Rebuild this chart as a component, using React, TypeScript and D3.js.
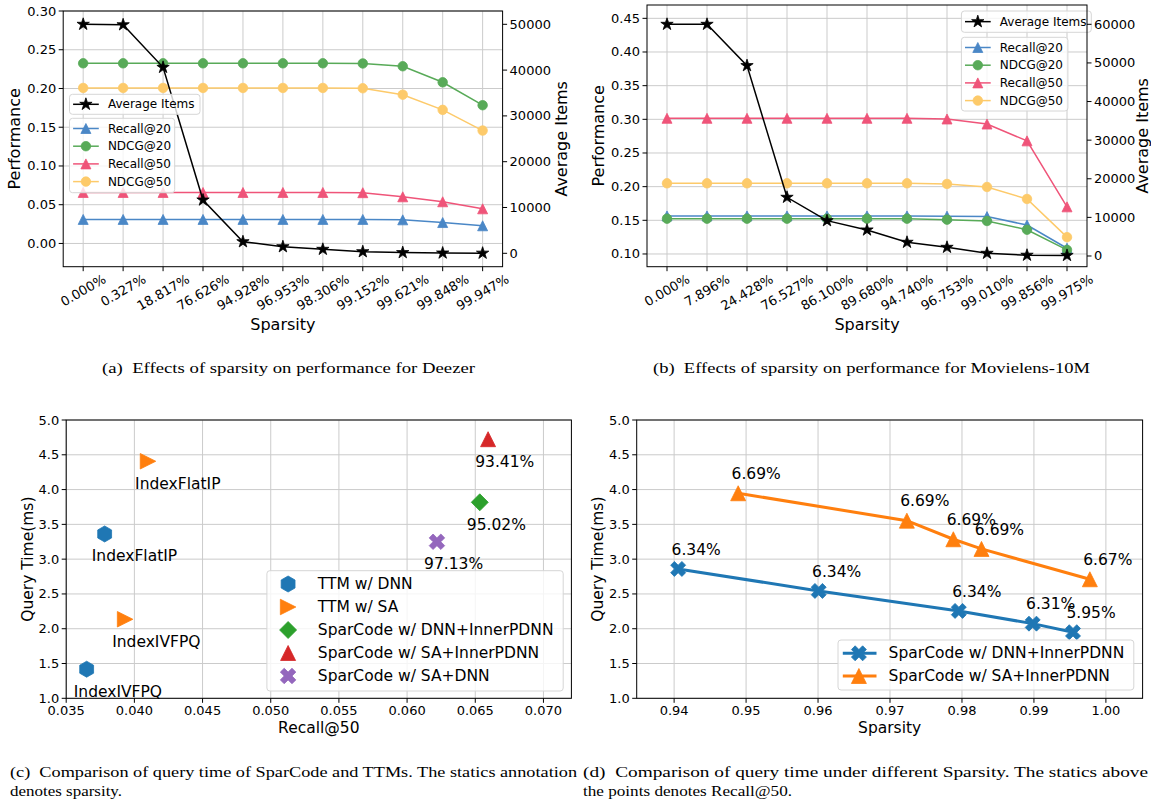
import React from 'react';
import * as d3 from 'd3';

const SANS = "'DejaVu Sans', Verdana, sans-serif";
const SERIF = "'Liberation Serif', 'Times New Roman', serif";
const GRID = '#cbcbcb';

// (a) Deezer
const deezerSparsity = ['0.000%', '0.327%', '18.817%', '76.626%', '94.928%', '96.953%', '98.306%', '99.152%', '99.621%', '99.848%', '99.947%'];
const deezerRecall20 = [0.031, 0.031, 0.031, 0.031, 0.031, 0.031, 0.031, 0.031, 0.0305, 0.027, 0.0228];
const deezerNdcg20 = [0.2325, 0.2325, 0.2325, 0.2325, 0.2325, 0.2325, 0.2325, 0.2323, 0.2287, 0.208, 0.1784];
const deezerRecall50 = [0.0658, 0.0658, 0.0658, 0.0658, 0.0658, 0.0658, 0.0658, 0.0655, 0.0602, 0.0538, 0.0447];
const deezerNdcg50 = [0.2007, 0.2007, 0.2007, 0.2007, 0.2007, 0.2007, 0.2007, 0.2003, 0.192, 0.1724, 0.1457];
const deezerAvgItems = [50000, 49900, 40600, 11640, 2530, 1440, 870, 350, 150, 60, 30];
const deezerPerfTicks = [0, 0.05, 0.1, 0.15, 0.2, 0.25, 0.3];
const deezerAvgTicks = [0, 10000, 20000, 30000, 40000, 50000];

// (b) Movielens-10M
const mlSparsity = ['0.000%', '7.896%', '24.428%', '76.527%', '86.100%', '89.680%', '94.740%', '96.753%', '99.010%', '99.856%', '99.975%'];
const mlRecall20 = [0.1565, 0.1565, 0.1565, 0.1565, 0.1565, 0.1565, 0.1565, 0.1562, 0.1555, 0.143, 0.1085];
const mlNdcg20 = [0.1524, 0.1524, 0.1524, 0.1524, 0.1524, 0.1524, 0.1524, 0.151, 0.149, 0.136, 0.106];
const mlRecall50 = [0.3015, 0.3015, 0.3015, 0.3015, 0.3015, 0.3015, 0.3015, 0.3005, 0.293, 0.268, 0.17];
const mlNdcg50 = [0.205, 0.205, 0.205, 0.205, 0.205, 0.205, 0.205, 0.204, 0.1995, 0.1817, 0.125];
const mlAvgItems = [60000, 60000, 49300, 15200, 9150, 6740, 3550, 2250, 700, 200, 150];
const mlPerfTicks = [0.1, 0.15, 0.2, 0.25, 0.3, 0.35, 0.4, 0.45];
const mlAvgTicks = [0, 10000, 20000, 30000, 40000, 50000, 60000];

const metricNames = ['Recall@20', 'NDCG@20', 'Recall@50', 'NDCG@50'];
const metricColors = ['#4a87c6', '#58aa58', '#ef5479', '#fdca6a'];
const metricMarkers = ['^', 'o', '^', 'o'];

// (c) query time vs recall@50
const ttmDnnRecall = [0.03782, 0.0365];
const ttmDnnTime = [3.362, 1.418];
const ttmDnnLabels = ['IndexFlatIP', 'IndexIVFPQ'];
const ttmSaRecall = [0.041, 0.03932];
const ttmSaTime = [4.407, 2.136];
const ttmSaLabels = ['IndexFlatIP', 'IndexIVFPQ'];
const scDnnInnerRecall = [0.06533];
const scDnnInnerTime = [3.817];
const scDnnInnerLabels = ['95.02%'];
const scSaInnerRecall = [0.06594];
const scSaInnerTime = [4.724];
const scSaInnerLabels = ['93.41%'];
const scSaDnnRecall = [0.06219];
const scSaDnnTime = [3.25];
const scSaDnnLabels = ['97.13%'];
const recallTicks = [0.035, 0.04, 0.045, 0.05, 0.055, 0.06, 0.065, 0.07];
const timeTicks = [1.0, 1.5, 2.0, 2.5, 3.0, 3.5, 4.0, 4.5, 5.0];

// (d) query time vs sparsity
const dnnSparsity = [0.94056, 0.96009, 0.97956, 0.98983, 0.99543];
const dnnTime = [2.859, 2.543, 2.256, 2.073, 1.95];
const dnnRecallLabels = ['6.34%', '6.34%', '6.34%', '6.31%', '5.95%'];
const saSparsity = [0.9489, 0.97234, 0.9788, 0.98271, 0.99777];
const saTime = [3.947, 3.553, 3.286, 3.147, 2.711];
const saRecallLabels = ['6.69%', '6.69%', '6.69%', '6.69%', '6.67%'];
const sparsityTicks = [0.94, 0.95, 0.96, 0.97, 0.98, 0.99, 1.0];

const CW: Record<string, number> = { '.': 0.318, '%': 0.95 };
function textW(s: string, fs: number) {
  let w = 0;
  for (const c of s) w += CW[c] ?? 0.636;
  return w * fs;
}

const X_PTS = [[-1, -2], [0, -1], [1, -2], [2, -1], [1, 0], [2, 1], [1, 2], [0, 1], [-1, 2], [-2, 1], [-1, 0], [-2, -1]];

function markerPath(kind: string, m: number) {
  const h = m / 2;
  const poly = (pts: number[][]) => 'M' + pts.map(p => p[0].toFixed(2) + ',' + p[1].toFixed(2)).join('L') + 'Z';
  if (kind === '^') return poly([[0, -h], [h, h], [-h, h]]);
  if (kind === '>') return poly([[h, 0], [-h, h], [-h, -h]]);
  if (kind === 'D') return poly([[0, -h], [h, 0], [0, h], [-h, 0]]);
  if (kind === 'X') return poly(X_PTS.map(p => [p[0] / 4 * m, p[1] / 4 * m]));
  if (kind === 'h') return poly(d3.range(6).map(k => [h * Math.cos(-Math.PI / 2 + k * Math.PI / 3), h * Math.sin(-Math.PI / 2 + k * Math.PI / 3)]));
  if (kind === '*') {
    return poly(d3.range(10).map(k => {
      const rr = k % 2 === 0 ? h : h * 0.382;
      const a = -Math.PI / 2 + k * Math.PI / 5;
      return [rr * Math.cos(a), rr * Math.sin(a)];
    }));
  }
  return `M${h},0A${h},${h} 0 1,1 ${-h},0A${h},${h} 0 1,1 ${h},0Z`;
}

function Mk({ kind, m, x, y, color }: any) {
  return <path d={markerPath(kind, m)} transform={`translate(${x},${y})`} fill={color} stroke={color} strokeWidth={0.8} />;
}

function Legend({ box, fs, rows }: any) {
  return (
    <g>
      <rect x={box.x} y={box.y} width={box.w} height={box.h} rx={3} fill="white" fillOpacity={0.8} stroke="#d6d6d6" strokeWidth={1} />
      {rows.map((r: any, i: number) => (
        <g key={i}>
          {r.line && <line x1={r.lx1} x2={r.lx2} y1={r.y} y2={r.y} stroke={r.color} strokeWidth={r.lw} />}
          <Mk kind={r.marker} m={r.m} x={r.mx} y={r.y} color={r.color} />
          <text x={r.tx} y={r.y} fontSize={fs} dominantBaseline="central" fontFamily={SANS} fill="#000">{r.label}</text>
        </g>
      ))}
    </g>
  );
}

function PerfPanel(p: any) {
  const { l, r, t, b } = p.box;
  const x = d3.scalePoint<string>().domain(p.cats).range([l, r]).padding(0.5);
  const y = d3.scaleLinear().domain(p.perfDomain).range([b, t]);
  const y2 = d3.scaleLinear().domain(p.avgDomain).range([b, t]);
  const fs = 13;
  const mkLine = (sc: any) => d3.line<number>().x((_, i) => x(p.cats[i])!).y(v => sc(v));
  const sizes = [10, 9.5, 10, 9.5];
  const leg2rows = metricNames.map((n, i) => ({
    line: true, lx1: p.leg2.x + 3.6, lx2: p.leg2.x + 29.3, mx: p.leg2.x + 16.4, tx: p.leg2.x + 38.4,
    y: p.leg2.y + 10.2 + 17.7 * i, color: metricColors[i], marker: metricMarkers[i], m: sizes[i], lw: 1.5, label: n,
  }));
  const leg1rows = [{
    line: true, lx1: p.leg1.x + 3.6, lx2: p.leg1.x + 29.3, mx: p.leg1.x + 16.4, tx: p.leg1.x + 38.4,
    y: p.leg1.y + p.leg1.h / 2, color: '#000', marker: '*', m: 13, lw: 1.5, label: 'Average Items',
  }];
  return (
    <g>
      {p.cats.map((c: string) => <line key={c} x1={x(c)} x2={x(c)} y1={t} y2={b} stroke={GRID} strokeWidth={1} />)}
      {p.perfTicks.map((v: number) => <line key={v} x1={l} x2={r} y1={y(v)} y2={y(v)} stroke={GRID} strokeWidth={1} />)}
      {p.metrics.map((vals: number[], i: number) => (
        <g key={i}>
          <path d={mkLine(y)(vals)!} fill="none" stroke={metricColors[i]} strokeWidth={1.5} />
          {vals.map((v, j) => <Mk key={j} kind={metricMarkers[i]} m={sizes[i]} x={x(p.cats[j])} y={y(v)} color={metricColors[i]} />)}
        </g>
      ))}
      <Legend box={p.leg2} fs={12} rows={leg2rows} />
      <path d={mkLine(y2)(p.avg)!} fill="none" stroke="#000" strokeWidth={1.5} />
      {p.avg.map((v: number, j: number) => <Mk key={j} kind="*" m={13} x={x(p.cats[j])} y={y2(v)} color="#000" />)}
      <Legend box={p.leg1} fs={12} rows={leg1rows} />
      <rect x={l} y={t} width={r - l} height={b - t} fill="none" stroke="#000" strokeWidth={1} />
      {p.perfTicks.map((v: number) => (
        <g key={v}>
          <line x1={l - 4.5} x2={l} y1={y(v)} y2={y(v)} stroke="#000" />
          <text x={l - 7} y={y(v)} fontSize={fs} textAnchor="end" dominantBaseline="central" fontFamily={SANS}>{d3.format('.2f')(v)}</text>
        </g>
      ))}
      {p.avgTicks.map((v: number) => (
        <g key={v}>
          <line x1={r} x2={r + 4.5} y1={y2(v)} y2={y2(v)} stroke="#000" />
          <text x={r + 7} y={y2(v)} fontSize={fs} dominantBaseline="central" fontFamily={SANS}>{v}</text>
        </g>
      ))}
      {p.cats.map((c: string) => {
        const w = textW(c, fs);
        const h = 0.5 * w + 0.866 * fs * 0.85;
        const cy = b + 6.5 + h / 2;
        return (
          <g key={c}>
            <line x1={x(c)} x2={x(c)} y1={b} y2={b + 4.5} stroke="#000" />
            <text transform={`translate(${x(c)},${cy}) rotate(-30)`} fontSize={fs} textAnchor="middle" dominantBaseline="central" fontFamily={SANS}>{c}</text>
          </g>
        );
      })}
      <text x={(l + r) / 2} y={324} fontSize={16} textAnchor="middle" dominantBaseline="central" fontFamily={SANS}>Sparsity</text>
      <text transform={`translate(${p.yLabelX},${(t + b) / 2}) rotate(-90)`} fontSize={16} textAnchor="middle" dominantBaseline="central" fontFamily={SANS}>Performance</text>
      <text transform={`translate(${p.y2LabelX},${(t + b) / 2}) rotate(-90)`} fontSize={16} textAnchor="middle" dominantBaseline="central" fontFamily={SANS}>Average Items</text>
    </g>
  );
}

function TimeFrame({ box, x, y, xTicks, xFmt, xLabel, yLabelX }: any) {
  const { l, r, t, b } = box;
  return (
    <g>
      <rect x={l} y={t} width={r - l} height={b - t} fill="none" stroke="#000" strokeWidth={1} />
      {xTicks.map((v: number) => (
        <g key={v}>
          <line x1={x(v)} x2={x(v)} y1={b} y2={b + 4.5} stroke="#000" />
          <text x={x(v)} y={b + 12} fontSize={13} textAnchor="middle" dominantBaseline="central" fontFamily={SANS}>{xFmt(v)}</text>
        </g>
      ))}
      {timeTicks.map((v: number) => (
        <g key={v}>
          <line x1={l - 4.5} x2={l} y1={y(v)} y2={y(v)} stroke="#000" />
          <text x={l - 7} y={y(v)} fontSize={13} textAnchor="end" dominantBaseline="central" fontFamily={SANS}>{d3.format('.1f')(v)}</text>
        </g>
      ))}
      <text x={(l + r) / 2} y={728} fontSize={15.5} textAnchor="middle" dominantBaseline="central" fontFamily={SANS}>{xLabel}</text>
      <text transform={`translate(${yLabelX},${(t + b) / 2}) rotate(-90)`} fontSize={15.5} textAnchor="middle" dominantBaseline="central" fontFamily={SANS}>Query Time(ms)</text>
    </g>
  );
}

function Grid({ box, x, y, xTicks }: any) {
  const { l, r, t, b } = box;
  return (
    <g>
      {xTicks.map((v: number) => <line key={'x' + v} x1={x(v)} x2={x(v)} y1={t} y2={b} stroke={GRID} strokeWidth={1} />)}
      {timeTicks.map((v: number) => <line key={'y' + v} x1={l} x2={r} y1={y(v)} y2={y(v)} stroke={GRID} strokeWidth={1} />)}
    </g>
  );
}

function ScatterPanel() {
  const box = { l: 66.2, r: 571.4, t: 420, b: 698.3 };
  const x = d3.scaleLinear().domain([0.035, 0.07205]).range([box.l, box.r]);
  const y = d3.scaleLinear().domain([1, 5]).range([box.b, box.t]);
  const groups = [
    { name: 'TTM w/ DNN', xs: ttmDnnRecall, ys: ttmDnnTime, labels: ttmDnnLabels, color: '#1f77b4', marker: 'h', m: 16 },
    { name: 'TTM w/ SA', xs: ttmSaRecall, ys: ttmSaTime, labels: ttmSaLabels, color: '#ff7f0e', marker: '>', m: 15.5 },
    { name: 'SparCode w/ DNN+InnerPDNN', xs: scDnnInnerRecall, ys: scDnnInnerTime, labels: scDnnInnerLabels, color: '#2ca02c', marker: 'D', m: 17 },
    { name: 'SparCode w/ SA+InnerPDNN', xs: scSaInnerRecall, ys: scSaInnerTime, labels: scSaInnerLabels, color: '#d62728', marker: '^', m: 15 },
    { name: 'SparCode w/ SA+DNN', xs: scSaDnnRecall, ys: scSaDnnTime, labels: scSaDnnLabels, color: '#9467bd', marker: 'X', m: 15.5 },
  ];
  const legBox = { x: 266.9, y: 570.7, w: 296.3, h: 120.3 };
  const rows = groups.map((g, i) => ({
    line: false, mx: 288.1, tx: 317.8, y: 584 + 23 * i, color: g.color, marker: g.marker, m: g.m, label: g.name,
  }));
  return (
    <g>
      <Grid box={box} x={x} y={y} xTicks={recallTicks} />
      {groups.map(g => g.xs.map((xv, j) => (
        <g key={g.name + j}>
          <Mk kind={g.marker} m={g.m} x={x(xv)} y={y(g.ys[j])} color={g.color} />
          <text x={x(xv) - 12.9} y={y(g.ys[j]) + 22.5} fontSize={15.5} dominantBaseline="central" fontFamily={SANS}>{g.labels[j]}</text>
        </g>
      )))}
      <TimeFrame box={box} x={x} y={y} xTicks={recallTicks} xFmt={d3.format('.3f')} xLabel="Recall@50" yLabelX={27.9} />
      <Legend box={legBox} fs={15.5} rows={rows} />
    </g>
  );
}

function SparsityPanel() {
  const box = { l: 636.7, r: 1142.6, t: 420, b: 698.3 };
  const x = d3.scaleLinear().domain([0.9348, 1.0051]).range([box.l, box.r]);
  const y = d3.scaleLinear().domain([1, 5]).range([box.b, box.t]);
  const series = [
    { name: 'SparCode w/ DNN+InnerPDNN', xs: dnnSparsity, ys: dnnTime, labels: dnnRecallLabels, color: '#1f77b4', marker: 'X', m: 15 },
    { name: 'SparCode w/ SA+InnerPDNN', xs: saSparsity, ys: saTime, labels: saRecallLabels, color: '#ff7f0e', marker: '^', m: 15 },
  ];
  const line = d3.line<number>();
  const legBox = { x: 838, y: 640, w: 295.8, h: 50 };
  const rows = series.map((s, i) => ({
    line: true, lx1: 842.8, lx2: 876.5, mx: 858.9, tx: 888.6, y: 653.3 + 22.7 * i, color: s.color, marker: s.marker, m: s.m, lw: 3, label: s.name,
  }));
  return (
    <g>
      <Grid box={box} x={x} y={y} xTicks={sparsityTicks} />
      {series.map(s => (
        <g key={s.name}>
          <path d={line(s.xs.map((xv, j) => [x(xv), y(s.ys[j])]) as any)!} fill="none" stroke={s.color} strokeWidth={3} />
          {s.xs.map((xv, j) => (
            <g key={j}>
              <Mk kind={s.marker} m={s.m} x={x(xv)} y={y(s.ys[j])} color={s.color} />
              <text x={x(xv) + 18} y={y(s.ys[j]) - 19.3} fontSize={15.5} textAnchor="middle" dominantBaseline="central" fontFamily={SANS}>{s.labels[j]}</text>
            </g>
          ))}
        </g>
      ))}
      <TimeFrame box={box} x={x} y={y} xTicks={sparsityTicks} xFmt={d3.format('.2f')} xLabel="Sparsity" yLabelX={598.3} />
      <Legend box={legBox} fs={15.5} rows={rows} />
    </g>
  );
}

function Caption({ x1, x2, y, children }: any) {
  return (
    <text x={x1} y={y} fontSize={15.5} fontFamily={SERIF} dominantBaseline="central" textLength={x2 - x1} lengthAdjust="spacingAndGlyphs" style={{ whiteSpace: 'pre' }}>{children}</text>
  );
}

export default function App() {
  return (
    <svg width={1151} height={803} style={{ position: 'absolute', left: 0, top: 0, background: '#fff' }}>
      <rect width={1151} height={803} fill="#fff" />
      <PerfPanel
        box={{ l: 63.2, r: 502.6, t: 11, b: 266.7 }}
        cats={deezerSparsity}
        metrics={[deezerRecall20, deezerNdcg20, deezerRecall50, deezerNdcg50]}
        avg={deezerAvgItems}
        perfDomain={[-0.03, 0.3]} perfTicks={deezerPerfTicks}
        avgDomain={[-2926, 52904]} avgTicks={deezerAvgTicks}
        yLabelX={14.9} y2LabelX={561}
        leg1={{ x: 69.5, y: 94.3, w: 130.5, h: 20 }}
        leg2={{ x: 69.5, y: 118.3, w: 105.2, h: 74.4 }}
      />
      <PerfPanel
        box={{ l: 647, r: 1087, t: 5, b: 266.7 }}
        cats={mlSparsity}
        metrics={[mlRecall20, mlNdcg20, mlRecall50, mlNdcg50]}
        avg={mlAvgItems}
        perfDomain={[0.0811, 0.4698]} perfTicks={mlPerfTicks}
        avgDomain={[-2772, 65000]} avgTicks={mlAvgTicks}
        yLabelX={598} y2LabelX={1142}
        leg1={{ x: 961.4, y: 11, w: 129.9, h: 21.3 }}
        leg2={{ x: 961.4, y: 37.3, w: 106.5, h: 73.7 }}
      />
      <ScatterPanel />
      <SparsityPanel />
      <Caption x1={102} x2={475} y={367}>{'(a)  Effects of sparsity on performance for Deezer'}</Caption>
      <Caption x1={653} x2={1090} y={367}>{'(b)  Effects of sparsity on performance for Movielens-10M'}</Caption>
      <Caption x1={10} x2={577} y={771}>{'(c)  Comparison of query time of SparCode and TTMs. The statics annotation'}</Caption>
      <Caption x1={10} x2={122} y={790.5}>{'denotes sparsity.'}</Caption>
      <Caption x1={583} x2={1148} y={771}>{'(d)  Comparison of query time under different Sparsity. The statics above'}</Caption>
      <Caption x1={583} x2={792} y={790.5}>{'the points denotes Recall@50.'}</Caption>
    </svg>
  );
}
